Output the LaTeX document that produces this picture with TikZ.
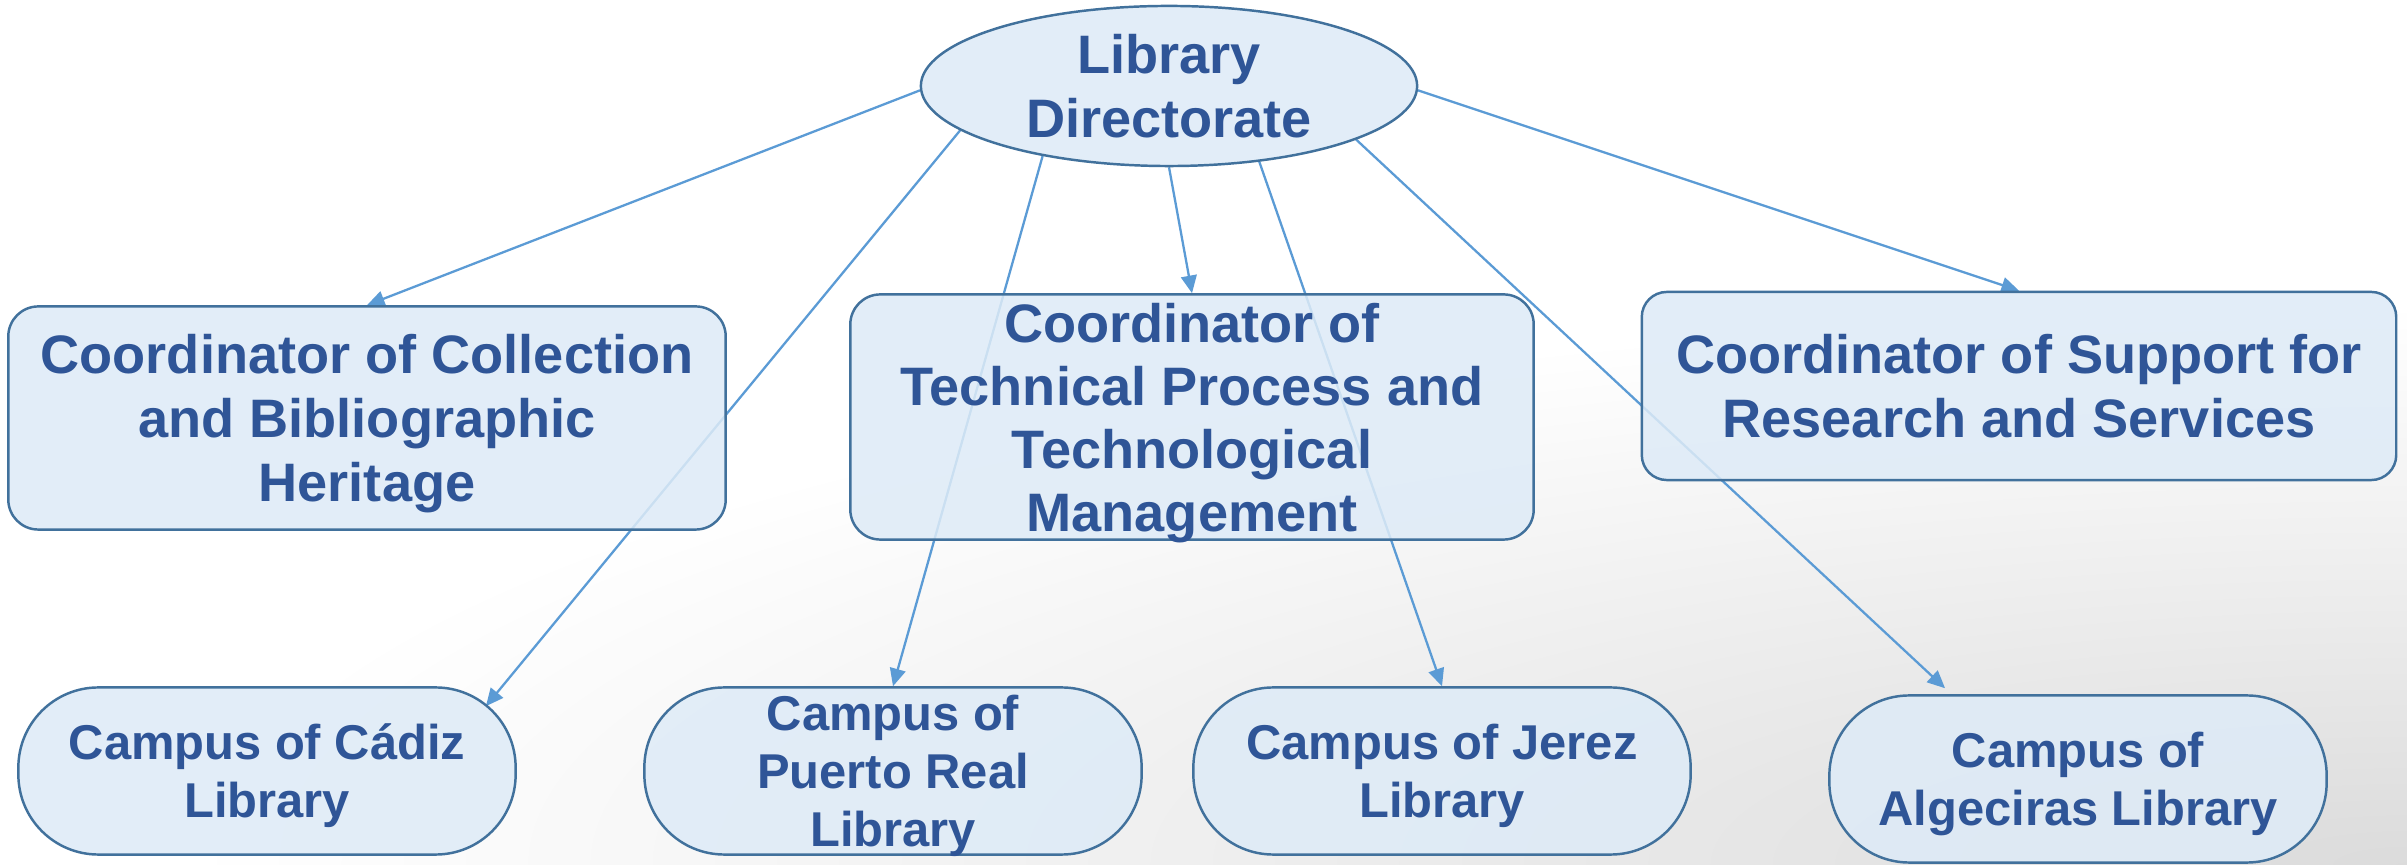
\documentclass[tikz,border=0pt]{standalone}
\usepackage{fontspec}
\setmainfont{Liberation Sans}
\usepackage{tikz}
\usetikzlibrary{calc, shapes, arrows.meta,positioning}
\usepackage{xcolor}
\definecolor{dirtext}{HTML}{2F5597}
\definecolor{boxfill}{HTML}{DEEBF7}
\definecolor{boxline}{HTML}{41719C}
\definecolor{arrowblue}{HTML}{5B9BD5}
\pgfdeclarelayer{bg}
\pgfdeclarelayer{lines}
\pgfsetlayers{bg,lines,main}

\begin{document}
\begin{tikzpicture}[x=0.01cm,y=-0.01cm,
		box/.style={draw=boxline,line width=0.7pt,fill=boxfill,fill opacity=0.85,text opacity=1,text=dirtext,align=center,inner sep=0pt,text depth=0pt,rounded corners=0.3cm,font=\bfseries\fontsize{15.4}{18.1}\selectfont},
		campus/.style={box,rounded corners=0.8cm,minimum width=4.97cm,minimum height=1.67cm,font=\bfseries\fontsize{13.9}{16.5}\selectfont},
		link/.style={draw=arrowblue,line width=0.65pt,-{Triangle[length=5pt,width=4.5pt]}}]
		\begin{pgfonlayer}{bg}
		\fill[white] (0,0) rectangle (2407,865);
		\begin{scope}
		\clip (0,0) rectangle (2407,865);
		\shade[inner color=black!14,outer color=white] (2407,865) ellipse [x radius=22.2cm,y radius=5.6cm];
		\end{scope}
		\end{pgfonlayer}
		\node[box,ellipse,rounded corners=0pt,minimum width=4.96cm,minimum height=1.6cm] (dir) at (1169,86) {Library\\Directorate};
		\node[box,minimum width=7.17cm,minimum height=2.23cm] (b1) at (367,418) {Coordinator of Collection\\and Bibliographic\\Heritage};
		\node[box,minimum width=6.83cm,minimum height=2.45cm,font=\bfseries\fontsize{15.4}{17.9}\selectfont] (b2) at (1192,417) {Coordinator of\\Technical Process and\\Technological\\Management};
		\node[box,minimum width=7.54cm,minimum height=1.88cm,rounded corners=0.25cm] (b3) at (2019,386) {Coordinator of Support for\\Research and Services};
		\node[campus] (c1) at (267,771) {Campus of C\'adiz\\Library};
		\node[campus] (c2) at (893,771) {Campus of\\Puerto Real\\Library};
		\node[campus] (c3) at (1442,771) {Campus of Jerez\\Library};
		\node[campus] (c4) at (2078,779) {Campus of\\Algeciras Library};
		\begin{pgfonlayer}{lines}
		\draw[link] (dir.181) -- (b1.north);
		\draw[link] (dir.192) -- ($(c1.north east)+(-31,20)$);
		\draw[link] (dir.209) -- (c2.north);
		\draw[link] (dir.270) -- (b2.north);
		\draw[link] (dir.320) -- (c3.north);
		\draw[link] (dir.344) -- ($(c4.north)+(-133,-6)$);
		\draw[link] (dir.359) -- (b3.north);
		\end{pgfonlayer}
	\end{tikzpicture}
\end{document}
